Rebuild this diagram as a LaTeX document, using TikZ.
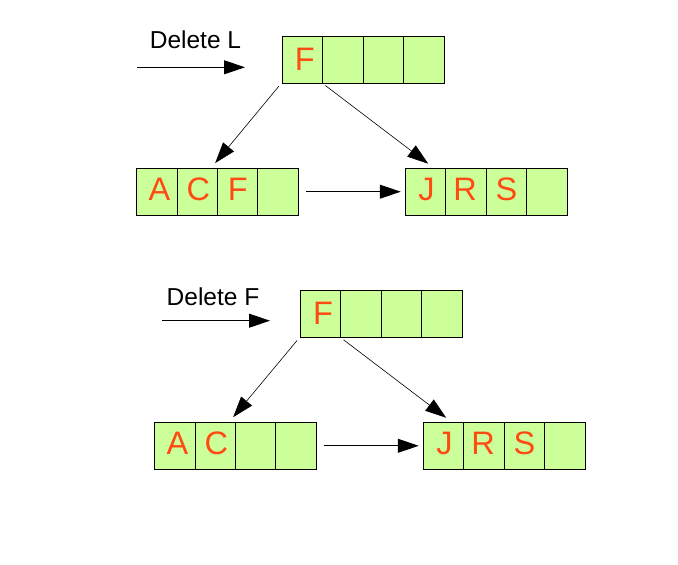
\documentclass[tikz,border=0pt]{standalone}
\usepackage{fontspec}
\setmainfont{Liberation Sans}
\usetikzlibrary{arrows.meta,calc}
\definecolor{cellfill}{HTML}{CCFF99}
\definecolor{lettercol}{HTML}{FF4A12}
\tikzset{
  cell/.style={draw=black,line width=1pt,fill=cellfill,rectangle,inner sep=0pt,
    minimum width=40.5pt,minimum height=47pt},
  letter/.style={inner sep=0pt,text=lettercol,font=\fontsize{32.5}{32.5}\selectfont},
  label/.style={inner sep=0pt,font=\fontsize{24.5}{24.5}\selectfont,text=black},
  arr/.style={-{Triangle[length=21pt,width=14pt]},line width=0.8pt,black},
  darr/.style={-{Triangle[length=21pt,width=14pt]},line width=0.6pt,black}
}
\begin{document}
\begin{tikzpicture}[x=1pt,y=-1pt]
\useasboundingbox (0,0) rectangle (678,565);
% ---------- top ----------
\node[label] (dl) at (195.5,39.5) {Delete L};
\coordinate (dla) at (137,67.3);
\coordinate (dlb) at (245,67.3);
\draw[arr] (dla) -- (dlb);
\node[cell] (ta1) at (302.3,59.5) {};
\node[cell] (ta2) at (342.8,59.5) {};
\node[cell] (ta3) at (383.3,59.5) {};
\node[cell] (ta4) at (423.8,59.5) {};
\node[cell] (tl1) at (156.9,191.7) {};
\node[cell] (tl2) at (197.3,191.7) {};
\node[cell] (tl3) at (237.7,191.7) {};
\node[cell] (tl4) at (278.1,191.7) {};
\node[cell] (tr1) at (425.5,191.7) {};
\node[cell] (tr2) at (466,191.7) {};
\node[cell] (tr3) at (506.5,191.7) {};
\node[cell] (tr4) at (547,191.7) {};
\node[letter] (tta1) at ($(ta1)+(2.5,0)$) {F};
\node[letter] (ttl1) at ($(tl1)+(2.5,-2)$) {A};
\node[letter] (ttl2) at ($(tl2)+(1,-2)$) {C};
\node[letter] (ttl3) at ($(tl3)+(0,-2)$) {F};
\node[letter] (ttr1) at ($(tr1)+(1,-2)$) {J};
\node[letter] (ttr2) at ($(tr2)+(-1,-2)$) {R};
\node[letter] (ttr3) at ($(tr3)+(0,-2)$) {S};
\draw[darr] ($(ta1.south west)+(-2.7,2.7)$) -- ($(tl3.north west)+(-1.8,-4.6)$);
\draw[darr] ($(ta2.south west)+(3.3,2)$) -- ($(tr1.north)+(2.7,-4)$);
\draw[arr,shorten <=7pt,shorten >=4pt] (tl4.east) -- (tr1.west);
% ---------- bottom ----------
\node[label] (df) at (213,297) {Delete F};
\coordinate (dfa) at (161.7,320.7);
\coordinate (dfb) at (270,320.7);
\draw[arr] (dfa) -- (dfb);
\node[cell] (ba1) at (320.5,313.8) {};
\node[cell] (ba2) at (361,313.8) {};
\node[cell] (ba3) at (401.5,313.8) {};
\node[cell] (ba4) at (442,313.8) {};
\node[cell] (bl1) at (174.9,445.8) {};
\node[cell] (bl2) at (215.3,445.8) {};
\node[cell] (bl3) at (255.7,445.8) {};
\node[cell] (bl4) at (296.1,445.8) {};
\node[cell] (br1) at (443.5,445.8) {};
\node[cell] (br2) at (484,445.8) {};
\node[cell] (br3) at (524.5,445.8) {};
\node[cell] (br4) at (565,445.8) {};
\node[letter] (tba1) at ($(ba1)+(2.5,0)$) {F};
\node[letter] (tbl1) at ($(bl1)+(2.5,-2)$) {A};
\node[letter] (tbl2) at ($(bl2)+(1,-2)$) {C};
\node[letter] (tbr1) at ($(br1)+(1,-2)$) {J};
\node[letter] (tbr2) at ($(br2)+(-1,-2)$) {R};
\node[letter] (tbr3) at ($(br3)+(0,-2)$) {S};
\draw[darr] ($(ba1.south west)+(-2.7,2.7)$) -- ($(bl3.north west)+(-1.8,-4.6)$);
\draw[darr] ($(ba2.south west)+(3.3,2)$) -- ($(br1.north)+(2.7,-4)$);
\draw[arr,shorten <=7pt,shorten >=4pt] (bl4.east) -- (br1.west);
\end{tikzpicture}
\end{document}
